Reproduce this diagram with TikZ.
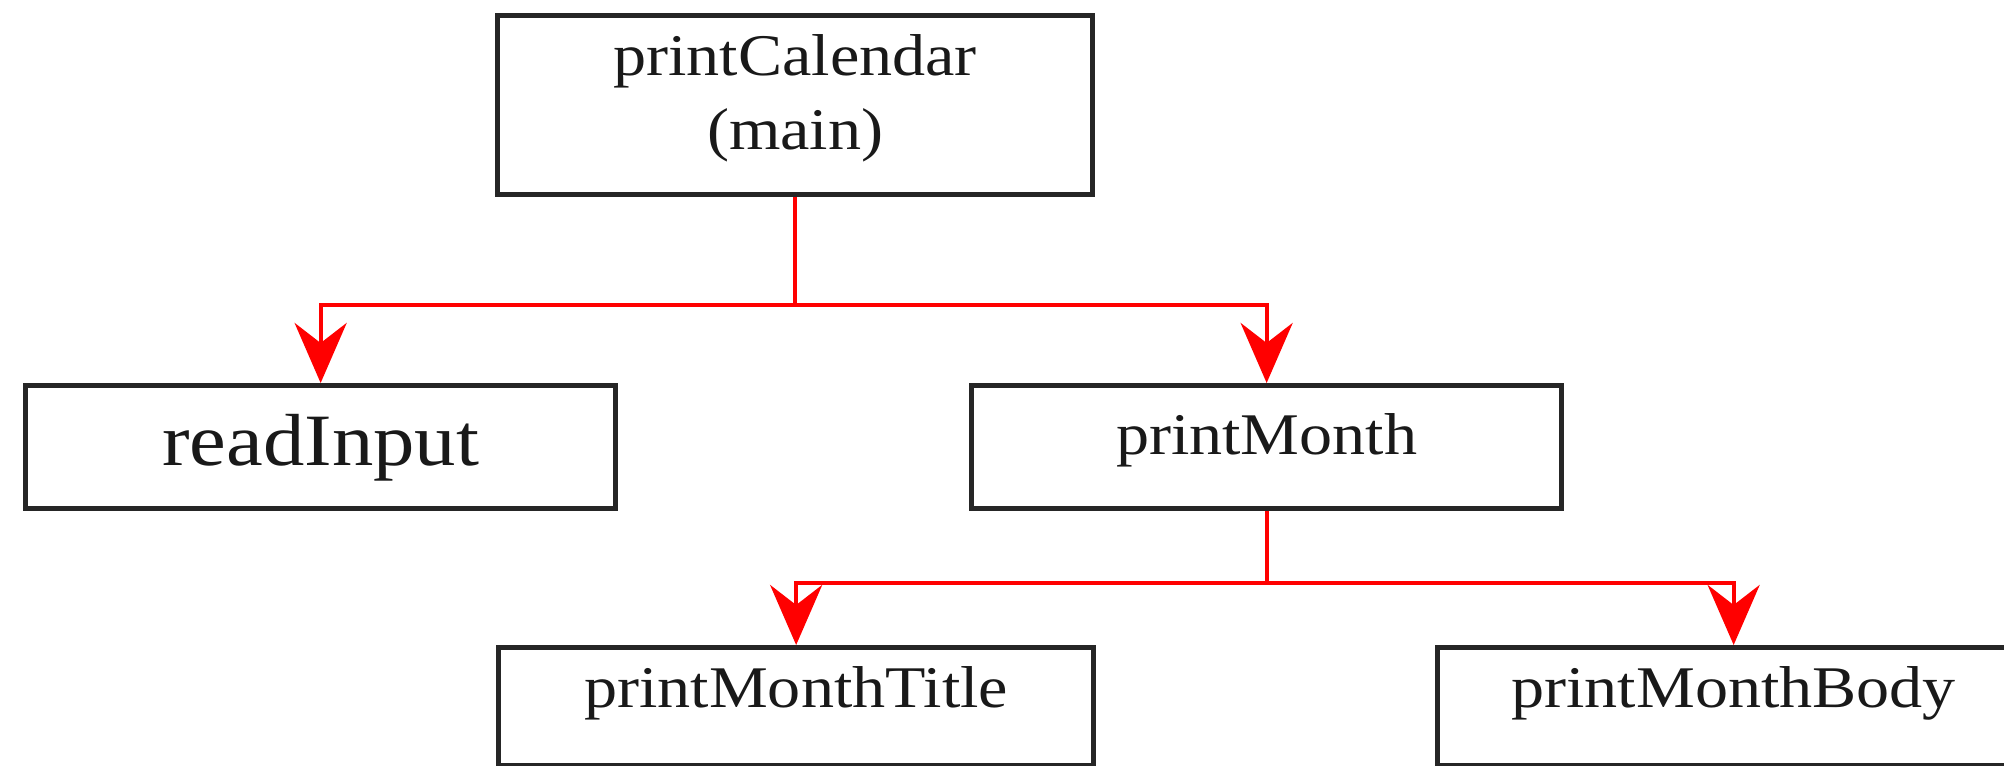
\documentclass[tikz,border=0pt]{standalone}
\usepackage{fontspec}
\setmainfont{Liberation Serif}[FakeStretch=1.12]
\usetikzlibrary{arrows.meta,positioning}

\begin{document}
\begin{tikzpicture}[-,auto,
                    func node/.style={rectangle,draw=black!85,line width=1.5pt,inner sep=0pt,
                      minimum width=5.95cm,anchor=north west,text=black!90,
                      font=\fontsize{16.8}{21}\selectfont},
                    call/.style={red,line width=1.2pt,-{Stealth[length=6mm,width=5.2mm,inset=2mm]}}]

  \useasboundingbox (0,0) rectangle (20.04,-7.66);

  \node[func node,align=center,text height=1.34cm,text depth=0.45cm] (main) at (4.95,-0.13) {printCalendar\\(main)};
  \node[func node,minimum width=5.90cm,text height=0.80cm,text depth=0.43cm,
        font=\fontsize{21}{25}\selectfont] (read) at (0.23,-3.83) {readInput};
  \node[func node,minimum width=5.90cm,text height=0.69cm,text depth=0.54cm] (month) at (9.69,-3.83) {printMonth};
  \node[func node,text height=0.60cm,text depth=0.58cm] (title) at (4.96,-6.45) {printMonthTitle};
  \node[func node,minimum width=5.92cm,text height=0.60cm,text depth=0.58cm] (body) at (14.35,-6.45) {printMonthBody};

  % calls
  \draw[call] (main.south) -- ++(0,-1.08) -| (read.north);
  \draw[call] (main.south) -- ++(0,-1.08) -| (month.north);
  \draw[call] (month.south) -- ++(0,-0.72) -| (title.north);
  \draw[call] (month.south) -- ++(0,-0.72) -| (body.north);

  % next calls, cut off at the page edge
  \coordinate (title out) at ([yshift=-0.3cm]title.south);
  \coordinate (body start) at ([xshift=0.84cm]body.south west);
  \coordinate (body out) at ([yshift=-0.3cm]body start);
  \draw[red,line width=1.2pt] (title.south) -- (title out);
  \draw[red,line width=1.2pt] (body start) -- (body out);
\end{tikzpicture}
\end{document}
